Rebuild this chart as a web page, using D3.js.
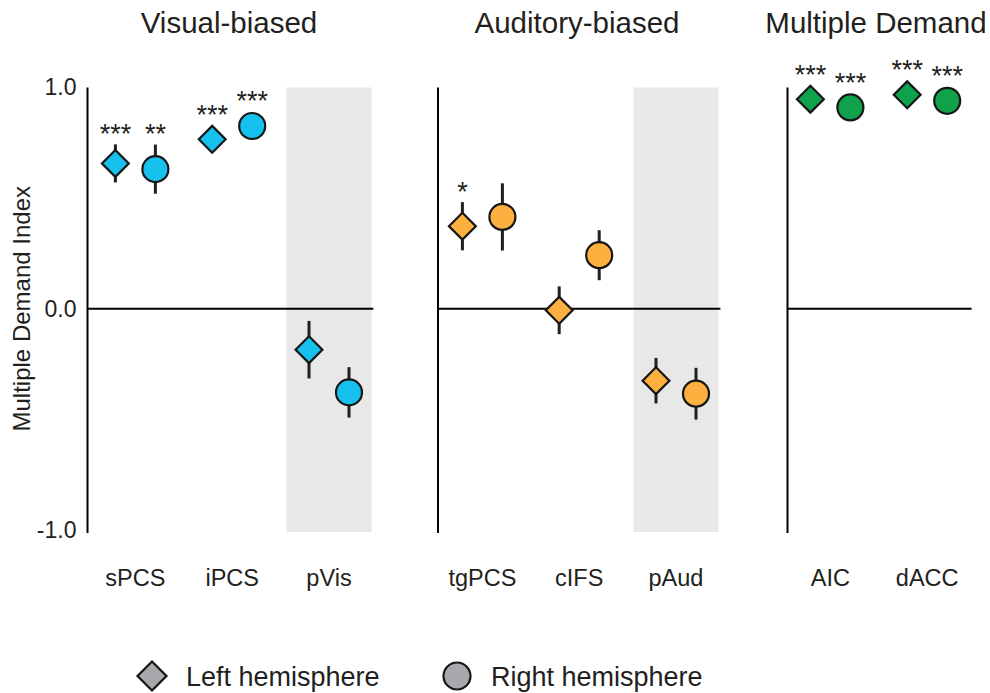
<!DOCTYPE html>
<html>
<head>
<meta charset="utf-8">
<script src="https://cdn.jsdelivr.net/npm/d3@7"></script>
<style>
  html, body { margin: 0; padding: 0; background: #fff; }
  svg { display: block; font-family: "Liberation Sans", Arial, Helvetica, sans-serif; }
</style>
</head>
<body>
<svg id="chart" width="990" height="693"></svg>
<script>
// ---------------- data ----------------
const panelTitles = ["Visual-biased", "Auditory-biased", "Multiple Demand"];
const regions     = ["sPCS", "iPCS", "pVis", "tgPCS", "cIFS", "pAud", "AIC", "dACC"];
const regionPanel = [0, 0, 0, 1, 1, 1, 2, 2];
const shadedRegions = ["pVis", "pAud"];
const leftValues  = [0.657, 0.766, -0.185, 0.373, -0.007, -0.325, 0.947, 0.967];
const leftErr     = [0.086, 0.030, 0.130, 0.109, 0.108, 0.103, 0.030, 0.030];
const rightValues = [0.631, 0.826, -0.378, 0.415, 0.242, -0.384, 0.910, 0.940];
const rightErr    = [0.111, 0.030, 0.114, 0.152, 0.113, 0.117, 0.030, 0.030];
const leftSig     = ["***", "***", "", "*", "", "", "***", "***"];
const rightSig    = ["**", "***", "", "", "", "", "***", "***"];
const panelColors = ["#17c1ee", "#fbb040", "#0fa24b"];
const yTicks = [-1, 0, 1];
const yTitle = "Multiple Demand Index";
const legendLabels = ["Left hemisphere", "Right hemisphere"];

// ---------------- layout ----------------
const svg = d3.select("#chart");
const step = 96.8;
const panels = [
  { axisX: 87.5, bandStart: 87 },
  { axisX: 438, bandStart: 434 },
  { axisX: 787.5, bandStart: 782 }
];
const titleX = [229, 577, 876];
const y = d3.scaleLinear().domain([-1, 1]).range([530, 87.5]);
const offset = 20;          // hemisphere offset from category centre
const rCircle = 13;
const diamondArea = 19 * 19;
const stroke = "#161616";

const diamond = d3.symbol().type(d3.symbolSquare).size(diamondArea);
const legendDiamond = d3.symbol().type(d3.symbolSquare).size(20.5 * 20.5);

panelTitles.forEach((title, p) => {
  const cats = regions.filter((r, i) => regionPanel[i] === p);
  const x = d3.scaleBand().domain(cats)
    .range([panels[p].bandStart, panels[p].bandStart + step * cats.length]);
  const g = svg.append("g");

  // shaded background
  cats.filter(c => shadedRegions.includes(c)).forEach(c => {
    const cx = x(c) + x.bandwidth() / 2;
    g.append("rect")
      .attr("x", cx - 42.5).attr("y", y(1))
      .attr("width", 85).attr("height", y(-1) - y(1) + 2)
      .attr("fill", "#e8e8e8");
  });

  // y axis
  const axis = d3.axisLeft(y).tickValues(p === 0 ? yTicks : [])
    .tickSize(0).tickSizeOuter(0).tickPadding(11)
    .tickFormat(d => d.toFixed(1));
  const ag = g.append("g").attr("transform", `translate(${panels[p].axisX},0)`).call(axis);
  ag.select(".domain").attr("stroke", "#000").attr("stroke-width", 2)
    .attr("d", `M0,${y(1)}V${y(-1) + 3}`);
  ag.selectAll(".tick text").attr("font-size", 23).attr("fill", "#231f20")
    .attr("font-family", "Liberation Sans, Arial, sans-serif");

  // zero line
  g.append("line")
    .attr("x1", panels[p].axisX).attr("x2", x.range()[1] - 4)
    .attr("y1", y(0)).attr("y2", y(0))
    .attr("stroke", "#000").attr("stroke-width", 2);

  // title
  g.append("text")
    .attr("x", titleX[p]).attr("y", 33)
    .attr("text-anchor", "middle").attr("font-size", 29.5).attr("fill", "#231f20")
    .text(title);

  // category labels
  cats.forEach(c => {
    g.append("text")
      .attr("x", x(c) + x.bandwidth() / 2).attr("y", 586)
      .attr("text-anchor", "middle").attr("font-size", 23.5).attr("fill", "#231f20")
      .text(c);
  });

  // points
  cats.forEach(c => {
    const i = regions.indexOf(c);
    const cx = x(c) + x.bandwidth() / 2;
    const pts = [
      { xx: cx - offset, v: leftValues[i], e: leftErr[i], sig: leftSig[i], shape: "d" },
      { xx: cx + offset, v: rightValues[i], e: rightErr[i], sig: rightSig[i], shape: "c" }
    ];
    pts.forEach(pt => {
      g.append("line")
        .attr("x1", pt.xx).attr("x2", pt.xx)
        .attr("y1", y(pt.v + pt.e)).attr("y2", y(pt.v - pt.e))
        .attr("stroke", "#231f20").attr("stroke-width", 3);
      if (pt.shape === "d") {
        g.append("path").attr("d", diamond)
          .attr("transform", `translate(${pt.xx},${y(pt.v)}) rotate(45)`)
          .attr("fill", panelColors[p]).attr("stroke", stroke).attr("stroke-width", 2.2)
          .attr("stroke-linejoin", "miter");
      } else {
        g.append("circle").attr("cx", pt.xx).attr("cy", y(pt.v)).attr("r", rCircle)
          .attr("fill", panelColors[p]).attr("stroke", stroke).attr("stroke-width", 2.2);
      }
      if (pt.sig) {
        const top = Math.min(y(pt.v + pt.e), y(pt.v) - 14);
        g.append("text")
          .attr("x", pt.xx).attr("y", top - 17 + 15.5)
          .attr("text-anchor", "middle").attr("font-size", 27).attr("fill", "#231f20")
          .text(pt.sig);
      }
    });
  });
});

// y axis title
svg.append("text")
  .attr("transform", `translate(30,${y(0)}) rotate(-90)`)
  .attr("text-anchor", "middle").attr("font-size", 24).attr("fill", "#231f20")
  .text(yTitle);

// legend
const lg = svg.append("g");
lg.append("path").attr("d", legendDiamond)
  .attr("transform", "translate(152,676) rotate(45)")
  .attr("fill", "#a7a9ac").attr("stroke", stroke).attr("stroke-width", 2.2);
lg.append("text").attr("x", 186).attr("y", 686).attr("font-size", 27).attr("fill", "#231f20")
  .text(legendLabels[0]);
lg.append("circle").attr("cx", 457).attr("cy", 676).attr("r", 13.5)
  .attr("fill", "#a7a9ac").attr("stroke", stroke).attr("stroke-width", 2.2);
lg.append("text").attr("x", 491).attr("y", 686).attr("font-size", 27).attr("fill", "#231f20")
  .text(legendLabels[1]);
</script>
</body>
</html>
